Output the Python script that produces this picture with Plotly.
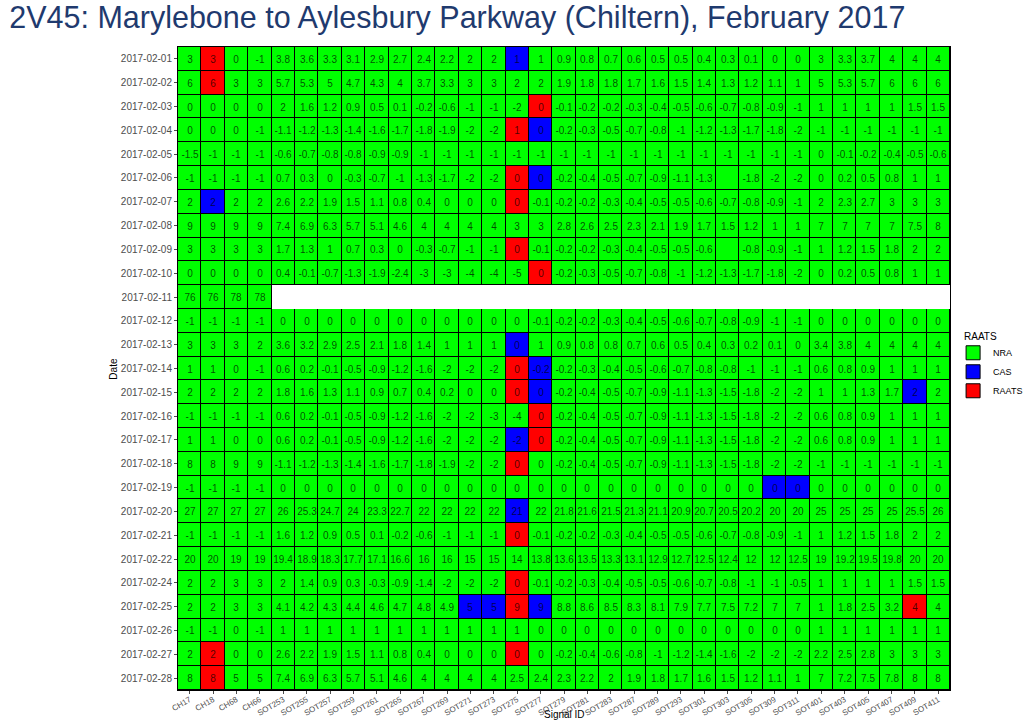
import plotly.graph_objects as go

dates = [
    "2017-02-01", "2017-02-02", "2017-02-03", "2017-02-04", "2017-02-05",
    "2017-02-06", "2017-02-07", "2017-02-08", "2017-02-09", "2017-02-10",
    "2017-02-11", "2017-02-12", "2017-02-13", "2017-02-14", "2017-02-15",
    "2017-02-16", "2017-02-17", "2017-02-18", "2017-02-19", "2017-02-20",
    "2017-02-21", "2017-02-22", "2017-02-24", "2017-02-25", "2017-02-26",
    "2017-02-27", "2017-02-28",
]

signals = [
    "CH17", "CH18", "CH68", "CH66", "SOT253", "SOT255", "SOT257", "SOT259",
    "SOT261", "SOT265", "SOT267", "SOT269", "SOT271", "SOT273", "SOT275",
    "SOT277", "SOT279", "SOT281", "SOT283", "SOT287", "SOT289", "SOT293",
    "SOT301", "SOT303", "SOT305", "SOT309", "SOT311", "SOT401", "SOT403",
    "SOT405", "SOT407", "SOT409", "SOT411",
]

# one row per date, one value per signal (None = no reading)
values = [
    [3, 3, 0, -1, 3.8, 3.6, 3.3, 3.1, 2.9, 2.7, 2.4, 2.2, 2, 2, 1, 1, 0.9, 0.8, 0.7, 0.6, 0.5, 0.5, 0.4, 0.3, 0.1, 0, 0, 3, 3.3, 3.7, 4, 4, 4],
    [6, 6, 3, 3, 5.7, 5.3, 5, 4.7, 4.3, 4, 3.7, 3.3, 3, 3, 2, 2, 1.9, 1.8, 1.8, 1.7, 1.6, 1.5, 1.4, 1.3, 1.2, 1.1, 1, 5, 5.3, 5.7, 6, 6, 6],
    [0, 0, 0, 0, 2, 1.6, 1.2, 0.9, 0.5, 0.1, -0.2, -0.6, -1, -1, -2, 0, -0.1, -0.2, -0.2, -0.3, -0.4, -0.5, -0.6, -0.7, -0.8, -0.9, -1, 1, 1, 1, 1, 1.5, 1.5],
    [0, 0, 0, -1, -1.1, -1.2, -1.3, -1.4, -1.6, -1.7, -1.8, -1.9, -2, -2, 1, 0, -0.2, -0.3, -0.5, -0.7, -0.8, -1, -1.2, -1.3, -1.7, -1.8, -2, -1, -1, -1, -1, -1, -1],
    [-1.5, -1, -1, -1, -0.6, -0.7, -0.8, -0.8, -0.9, -0.9, -1, -1, -1, -1, -1, -1, -1, -1, -1, -1, -1, -1, -1, -1, -1, -1, -1, 0, -0.1, -0.2, -0.4, -0.5, -0.6],
    [-1, -1, -1, -1, 0.7, 0.3, 0, -0.3, -0.7, -1, -1.3, -1.7, -2, -2, 0, 0, -0.2, -0.4, -0.5, -0.7, -0.9, -1.1, -1.3, None, -1.8, -2, -2, 0, 0.2, 0.5, 0.8, 1, 1],
    [2, 2, 2, 2, 2.6, 2.2, 1.9, 1.5, 1.1, 0.8, 0.4, 0, 0, 0, 0, -0.1, -0.2, -0.2, -0.3, -0.4, -0.5, -0.5, -0.6, -0.7, -0.8, -0.9, -1, 2, 2.3, 2.7, 3, 3, 3],
    [9, 9, 9, 9, 7.4, 6.9, 6.3, 5.7, 5.1, 4.6, 4, 4, 4, 4, 3, 3, 2.8, 2.6, 2.5, 2.3, 2.1, 1.9, 1.7, 1.5, 1.2, 1, 1, 7, 7, 7, 7, 7.5, 8],
    [3, 3, 3, 3, 1.7, 1.3, 1, 0.7, 0.3, 0, -0.3, -0.7, -1, -1, 0, -0.1, -0.2, -0.2, -0.3, -0.4, -0.5, -0.5, -0.6, None, -0.8, -0.9, -1, 1, 1.2, 1.5, 1.8, 2, 2],
    [0, 0, 0, 0, 0.4, -0.1, -0.7, -1.3, -1.9, -2.4, -3, -3, -4, -4, -5, 0, -0.2, -0.3, -0.5, -0.7, -0.8, -1, -1.2, -1.3, -1.7, -1.8, -2, 0, 0.2, 0.5, 0.8, 1, 1],
    [76, 76, 78, 78],
    [-1, -1, -1, -1, 0, 0, 0, 0, 0, 0, 0, 0, 0, 0, 0, -0.1, -0.2, -0.2, -0.3, -0.4, -0.5, -0.6, -0.7, -0.8, -0.9, -1, -1, 0, 0, 0, 0, 0, 0],
    [3, 3, 3, 2, 3.6, 3.2, 2.9, 2.5, 2.1, 1.8, 1.4, 1, 1, 1, 0, 1, 0.9, 0.8, 0.8, 0.7, 0.6, 0.5, 0.4, 0.3, 0.2, 0.1, 0, 3.4, 3.8, 4, 4, 4, 4],
    [1, 1, 0, -1, 0.6, 0.2, -0.1, -0.5, -0.9, -1.2, -1.6, -2, -2, -2, 0, -0.2, -0.2, -0.3, -0.4, -0.5, -0.6, -0.7, -0.8, -0.8, -1, -1, -1, 0.6, 0.8, 0.9, 1, 1, 1],
    [2, 2, 2, 2, 1.8, 1.6, 1.3, 1.1, 0.9, 0.7, 0.4, 0.2, 0, 0, 0, 0, -0.2, -0.4, -0.5, -0.7, -0.9, -1.1, -1.3, -1.5, -1.8, -2, -2, 1, 1, 1.3, 1.7, 2, 2],
    [-1, -1, -1, -1, 0.6, 0.2, -0.1, -0.5, -0.9, -1.2, -1.6, -2, -2, -3, -4, 0, -0.2, -0.4, -0.5, -0.7, -0.9, -1.1, -1.3, -1.5, -1.8, -2, -2, 0.6, 0.8, 0.9, 1, 1, 1],
    [1, 1, 0, 0, 0.6, 0.2, -0.1, -0.5, -0.9, -1.2, -1.6, -2, -2, -2, -2, 0, -0.2, -0.4, -0.5, -0.7, -0.9, -1.1, -1.3, -1.5, -1.8, -2, -2, 0.6, 0.8, 0.9, 1, 1, 1],
    [8, 8, 9, 9, -1.1, -1.2, -1.3, -1.4, -1.6, -1.7, -1.8, -1.9, -2, -2, 0, 0, -0.2, -0.4, -0.5, -0.7, -0.9, -1.1, -1.3, -1.5, -1.8, -2, -2, -1, -1, -1, -1, -1, -1],
    [-1, -1, -1, -1, 0, 0, 0, 0, 0, 0, 0, 0, 0, 0, 0, 0, 0, 0, 0, 0, 0, 0, 0, 0, 0, 0, 0, 0, 0, 0, 0, 0, 0],
    [27, 27, 27, 27, 26, 25.3, 24.7, 24, 23.3, 22.7, 22, 22, 22, 22, 21, 22, 21.8, 21.6, 21.5, 21.3, 21.1, 20.9, 20.7, 20.5, 20.2, 20, 20, 25, 25, 25, 25, 25.5, 26],
    [-1, -1, -1, -1, 1.6, 1.2, 0.9, 0.5, 0.1, -0.2, -0.6, -1, -1, -1, 0, -0.1, -0.2, -0.2, -0.3, -0.4, -0.5, -0.5, -0.6, -0.7, -0.8, -0.9, -1, 1, 1.2, 1.5, 1.8, 2, 2],
    [20, 20, 19, 19, 19.4, 18.9, 18.3, 17.7, 17.1, 16.6, 16, 16, 15, 15, 14, 13.8, 13.6, 13.5, 13.3, 13.1, 12.9, 12.7, 12.5, 12.4, 12, 12, 12.5, 19, 19.2, 19.5, 19.8, 20, 20],
    [2, 2, 3, 3, 2, 1.4, 0.9, 0.3, -0.3, -0.9, -1.4, -2, -2, -2, 0, -0.1, -0.2, -0.3, -0.4, -0.5, -0.5, -0.6, -0.7, -0.8, -1, -1, -0.5, 1, 1, 1, 1, 1.5, 1.5],
    [2, 2, 3, 3, 4.1, 4.2, 4.3, 4.4, 4.6, 4.7, 4.8, 4.9, 5, 5, 9, 9, 8.8, 8.6, 8.5, 8.3, 8.1, 7.9, 7.7, 7.5, 7.2, 7, 7, 1, 1.8, 2.5, 3.2, 4, 4],
    [-1, -1, 0, -1, 1, 1, 1, 1, 1, 1, 1, 1, 1, 1, 1, 0, 0, 0, 0, 0, 0, 0, 0, 0, 0, 0, 0, 1, 1, 1, 1, 1, 1],
    [2, 2, 0, 0, 2.6, 2.2, 1.9, 1.5, 1.1, 0.8, 0.4, 0, 0, 0, 0, 0, -0.2, -0.4, -0.6, -0.8, -1, -1.2, -1.4, -1.6, -2, -2, -2, 2.2, 2.5, 2.8, 3, 3, 3],
    [8, 8, 5, 5, 7.4, 6.9, 6.3, 5.7, 5.1, 4.6, 4, 4, 4, 4, 2.5, 2.4, 2.3, 2.2, 2, 1.9, 1.8, 1.7, 1.6, 1.5, 1.2, 1.1, 1, 7, 7.2, 7.5, 7.8, 8, 8],
]

statuses = ["NRA", "CAS", "RAATS"]
status_colors = ["#00FF00", "#0000FF", "#FF0000"]

# cells that are not NRA
flags = [
    ("2017-02-01", "CH18", "RAATS"), ("2017-02-01", "SOT275", "CAS"),
    ("2017-02-02", "CH18", "RAATS"),
    ("2017-02-03", "SOT277", "RAATS"),
    ("2017-02-04", "SOT275", "RAATS"), ("2017-02-04", "SOT277", "CAS"),
    ("2017-02-06", "SOT275", "RAATS"), ("2017-02-06", "SOT277", "CAS"),
    ("2017-02-07", "CH18", "CAS"), ("2017-02-07", "SOT275", "RAATS"),
    ("2017-02-09", "SOT275", "RAATS"),
    ("2017-02-10", "SOT277", "RAATS"),
    ("2017-02-13", "SOT275", "CAS"),
    ("2017-02-14", "SOT275", "RAATS"), ("2017-02-14", "SOT277", "CAS"),
    ("2017-02-15", "SOT275", "RAATS"), ("2017-02-15", "SOT277", "CAS"),
    ("2017-02-15", "SOT409", "CAS"),
    ("2017-02-16", "SOT277", "RAATS"),
    ("2017-02-17", "SOT275", "CAS"), ("2017-02-17", "SOT277", "RAATS"),
    ("2017-02-18", "SOT275", "RAATS"),
    ("2017-02-19", "SOT309", "CAS"), ("2017-02-19", "SOT311", "CAS"),
    ("2017-02-20", "SOT275", "CAS"),
    ("2017-02-21", "SOT275", "RAATS"),
    ("2017-02-24", "SOT275", "RAATS"),
    ("2017-02-25", "SOT271", "CAS"), ("2017-02-25", "SOT273", "CAS"),
    ("2017-02-25", "SOT275", "RAATS"), ("2017-02-25", "SOT277", "CAS"),
    ("2017-02-25", "SOT409", "RAATS"),
    ("2017-02-27", "CH18", "RAATS"), ("2017-02-27", "SOT275", "RAATS"),
    ("2017-02-28", "CH18", "RAATS"),
]

# build grids
n_rows, n_cols = len(dates), len(signals)
cell = [[None] * n_cols for _ in range(n_rows)]
code = [[None] * n_cols for _ in range(n_rows)]
text = [[""] * n_cols for _ in range(n_rows)]
for r, row in enumerate(values):
    for c, v in enumerate(row):
        cell[r][c] = 1
        code[r][c] = 0
        text[r][c] = "" if v is None else f"{v:g}"
for d, s, st in flags:
    code[dates.index(d)][signals.index(s)] = statuses.index(st)

FONT = "Liberation Sans, Arial, sans-serif"

scale = []
for i, col in enumerate(status_colors):
    scale.append([i / len(status_colors), col])
    scale.append([(i + 1) / len(status_colors), col])

fig = go.Figure()

# black underlay shows through the gaps as cell borders
fig.add_trace(go.Heatmap(
    x=signals, y=dates, z=cell,
    colorscale=[[0, "black"], [1, "black"]],
    showscale=False, hoverinfo="skip",
))
fig.add_trace(go.Heatmap(
    x=signals, y=dates, z=code, text=text,
    texttemplate="%{text}",
    textfont=dict(family=FONT, size=10, color="rgba(0,0,0,0.7)"),
    colorscale=scale, zmin=-0.5, zmax=2.5,
    xgap=1, ygap=1, showscale=False,
    hovertemplate="%{y} %{x}: %{text}<extra></extra>",
))

# legend keys
for st, col in zip(statuses, status_colors):
    fig.add_trace(go.Scatter(
        x=[None], y=[None], mode="markers", name=st,
        marker=dict(symbol="square", size=14, color=col,
                    line=dict(color="black", width=1)),
    ))

fig.update_layout(
    width=1024, height=720,
    margin=dict(l=178, r=74, t=47, b=30, autoexpand=False),
    paper_bgcolor="white", plot_bgcolor="white",
    font=dict(family=FONT, color="#4d4d4d"),
    title=dict(
        text="2V45: Marylebone to Aylesbury Parkway (Chiltern), February 2017",
        x=0.009, xanchor="left", y=0.976, yanchor="middle",
        font=dict(family=FONT, size=30.5, color="#1F3A6E"),
    ),
    legend=dict(
        x=1.004, xanchor="left", y=0.547, yanchor="top",
        font=dict(size=9, color="black"),
        bgcolor="rgba(0,0,0,0)", tracegroupgap=0,
    ),
    annotations=[
        dict(text="RAATS", xref="paper", yref="paper", x=1.016, y=0.549,
             xanchor="left", yanchor="middle", showarrow=False,
             font=dict(size=10, color="black")),
        dict(text="Signal ID", xref="paper", yref="paper", x=0.5, y=-0.0385,
             xanchor="center", yanchor="middle", showarrow=False,
             font=dict(size=10, color="black")),
        dict(text="Date", xref="paper", yref="paper", x=-0.084, y=0.5,
             xanchor="center", yanchor="middle",
             textangle=-90, showarrow=False,
             font=dict(size=10, color="black")),
    ],
)

fig.update_xaxes(
    type="category", categoryorder="array", categoryarray=signals,
    tickangle=-30, tickfont=dict(size=8, color="#4d4d4d"),
    ticks="outside", ticklen=3, tickcolor="#4d4d4d", ticklabelstandoff=-2,
    showline=True, mirror=True, linecolor="black", linewidth=1,
    showgrid=False, zeroline=False, automargin=False,
)
fig.update_yaxes(
    type="category", categoryorder="array", categoryarray=dates,
    autorange="reversed", tickfont=dict(size=10, color="#4d4d4d"),
    ticks="outside", ticklen=3, tickcolor="#4d4d4d",
    showline=True, mirror=True, linecolor="black", linewidth=1,
    showgrid=False, zeroline=False, automargin=False,
)

# page body has a default 8px margin; drop it so the figure fills the window
fig.write_html(
    "out.html",
    config={"displayModeBar": False},
    post_script="document.body.style.margin = '0';",
)
